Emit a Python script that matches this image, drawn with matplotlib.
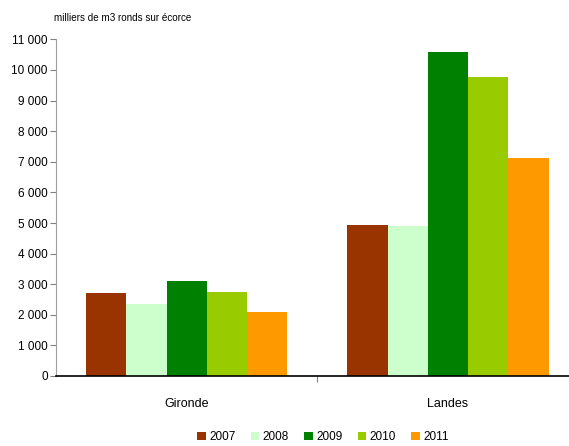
import matplotlib
matplotlib.use("Agg")
import matplotlib.pyplot as plt
import numpy as np

plt.rcParams['font.family'] = ['Liberation Sans Narrow', 'Liberation Sans', 'DejaVu Sans']

# Data (milliers de m3)
regions = ['Gironde', 'Landes']
years = ['2007', '2008', '2009', '2010', '2011']
values = {
    '2007': [2712, 4935],
    '2008': [2353, 4902],
    '2009': [3105, 10590],
    '2010': [2745, 9770],
    '2011': [2092, 7124],
}
colors = ['#993300', '#CCFFCC', '#008000', '#99CC00', '#FF9900']
yticks = np.arange(0, 11001, 1000)
ytick_labels = ['0'] + ['{:,}'.format(v).replace(',', ' ') for v in yticks[1:]]

fig = plt.figure(figsize=(5.69, 4.46), dpi=100)
ax = fig.add_axes([56 / 569, 70 / 446, 1 - 56 / 569, 336.6 / 446])

x = np.arange(len(regions))
w = 0.154
for i, yr in enumerate(years):
    ax.bar(x + (i - 2) * w, values[yr], width=w, color=colors[i], label=yr, linewidth=0)

ax.set_xlim(-0.5, 1.463)
ax.set_ylim(0, 11000)
ax.set_yticks(yticks)
ax.set_yticklabels(ytick_labels, fontsize=8.5)
ax.set_xticks([0.5])
ax.set_xticklabels([''])
ax.tick_params(axis='x', direction='out', length=4, color='#808080')
ax.tick_params(axis='y', direction='out', length=4, color='#808080', pad=2)

for r, xi in zip(regions, x):
    ax.text(xi, -900, r, ha='center', va='center', fontsize=9)

ax.spines['top'].set_visible(False)
ax.spines['right'].set_visible(False)
ax.spines['left'].set_color('#a0a0a0')
ax.spines['bottom'].set_color('black')
ax.spines['bottom'].set_linewidth(1.2)

fig.text(54 / 569, 1 - 18 / 446, 'milliers de m3 ronds sur écorce',
         ha='left', va='center', fontsize=7.1)

fig.legend(loc='center', bbox_to_anchor=(323 / 569, 1 - 437 / 446), ncol=5,
           frameon=False, fontsize=8.5, handlelength=0.7, handleheight=0.7,
           handletextpad=0.3, columnspacing=1.3)

fig.savefig('out.png', dpi=100)
